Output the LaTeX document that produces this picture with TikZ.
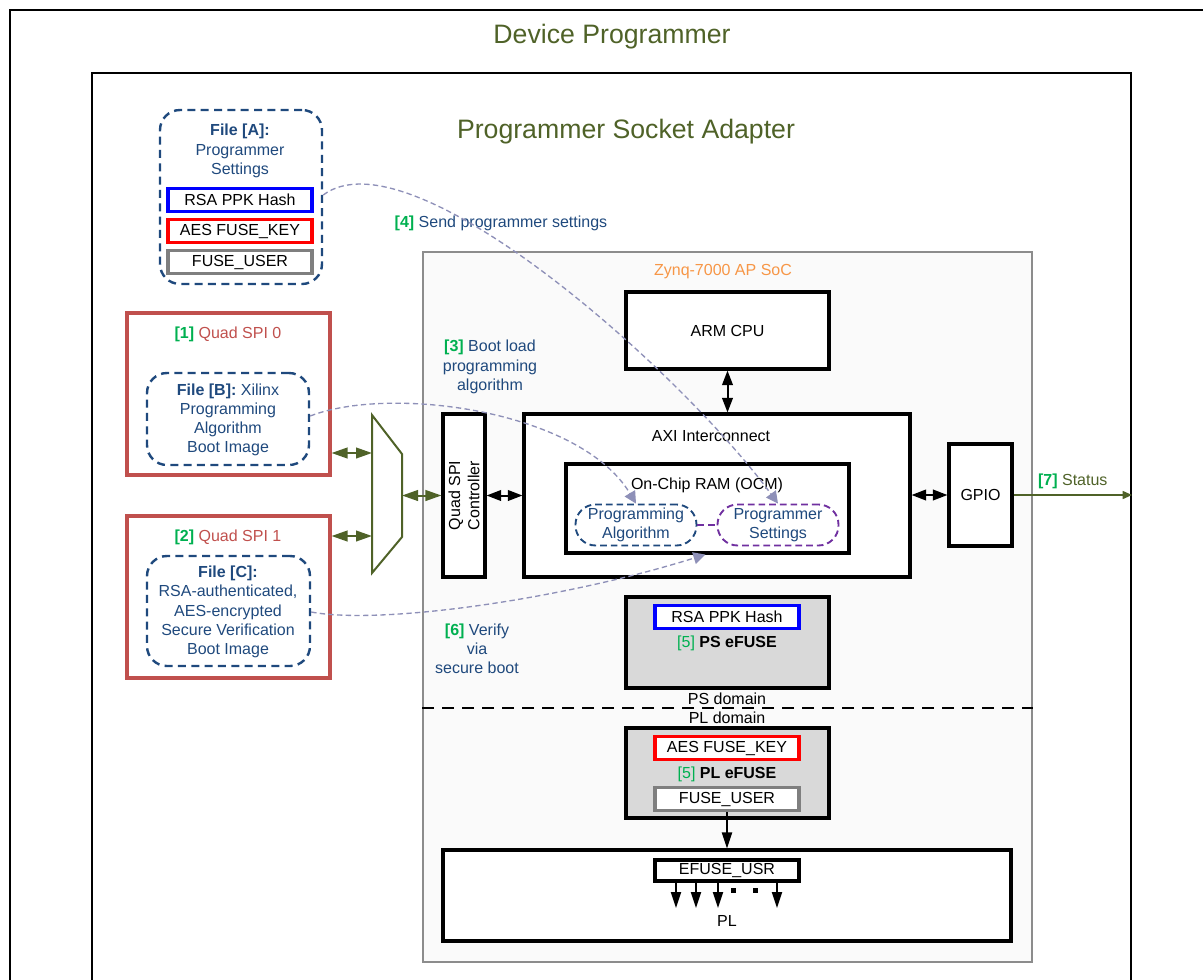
\documentclass[tikz,border=0pt]{standalone}
\usepackage{fontspec}
\setmainfont{Liberation Sans}
\usetikzlibrary{fit,arrows.meta}

\definecolor{devgreen}{HTML}{4F6228}
\definecolor{numgreen}{HTML}{00B050}
\definecolor{spired}{HTML}{C0504D}
\definecolor{fileblue}{HTML}{1F497D}
\definecolor{setpurple}{HTML}{7030A0}
\definecolor{socorange}{HTML}{F79646}
\definecolor{linkgray}{HTML}{8E90B8}
\definecolor{socgray}{HTML}{8C8C8C}
\definecolor{socfill}{HTML}{FAFAFA}
\definecolor{fusefill}{HTML}{D9D9D9}
\definecolor{fuseblue}{HTML}{0000FF}
\definecolor{fusered}{HTML}{FF0000}
\definecolor{fusegray}{HTML}{7F7F7F}

\newcommand{\stepnum}[1]{\textcolor{numgreen}{\textbf{[#1]}}}

\tikzset{
  frame/.style={draw, line width=1.5pt, inner sep=0pt},
  title/.style={text=devgreen, font=\fontsize{20}{22}\selectfont},
  hwbox/.style={draw, line width=2.3pt, fill=white, inner sep=0pt},
  spibox/.style={draw=spired, line width=2.3pt, inner sep=0pt},
  filebox/.style={draw=fileblue, line width=1.8pt, dash pattern=on 6pt off 4pt, rounded corners=15pt, inner sep=0pt},
  filetext/.style={text=fileblue, align=center},
  fusebox/.style={draw, line width=2.6pt, fill=white, inner sep=0pt, minimum width=108pt, minimum height=17pt},
  efusebox/.style={draw, line width=2.3pt, fill=fusefill, inner sep=0pt},
  pill/.style={line width=1.4pt, dash pattern=on 5pt off 3pt, rounded corners=15pt, minimum width=90.75pt, minimum height=30.75pt, align=center, inner sep=0pt},
  bus/.style={line width=1.5pt, {Triangle[length=11pt,width=8pt]}-{Triangle[length=11pt,width=8pt]}},
  muxbus/.style={devgreen, line width=1.5pt, {Triangle[length=12pt,width=8pt]}-{Triangle[length=12pt,width=8pt]}},
  sig/.style={line width=1.5pt, -{Triangle[length=12pt,width=7.5pt]}},
  link/.style={draw=linkgray, line width=1pt, dash pattern=on 4pt off 2.5pt, -{Triangle[length=9pt,width=9pt]}},
}

\begin{document}
\begin{tikzpicture}[x=0.75pt, y=-0.75pt, font=\fontsize{12}{14.4}\selectfont]
    \useasboundingbox (0,0) rectangle (1203,979);
    \clip (0,0) rectangle (1203,979);

    % Draw programmer and socket adapter
    \node[frame, fit={(10,10) (1220,1000)}] (programmer) {};
    \node[title] (programmerlabel) at (612,37) {Device Programmer};
    \node[frame, fit={(92,73) (1131,1000)}] (adapter) {};
    \node[title] (adapterlabel) at (626,132) {Programmer Socket Adapter};

    % File A
    \node[filebox, fit={(160,110) (322,284)}] (fileA) {};
    \node[filetext] (fileAtext) at (240,151) {\textbf{File [A]:}\\Programmer\\Settings};
    \node[fusebox, draw=fuseblue] (rsaA) at (240,200) {RSA PPK Hash};
    \node[fusebox, draw=fusered] (aesA) at (240,231) {AES FUSE\_KEY};
    \node[fusebox, draw=fusegray] (userA) at (240,262) {FUSE\_USER};

    % Quad SPI flash devices
    \node[spibox, fit={(127,313) (330,475)}] (spi0) {};
    \node[text=spired] (spi0label) at (228,334) {\stepnum{1} Quad SPI 0};
    \node[filebox, fit={(147,373) (309,465)}] (fileB) {};
    \node[filetext] (fileBtext) at (228,420) {\textbf{File [B]:} Xilinx\\Programming\\Algorithm\\Boot Image};
    \node[spibox, fit={(127,516) (330,678)}] (spi1) {};
    \node[text=spired] (spi1label) at (228,537) {\stepnum{2} Quad SPI 1};
    \node[filebox, fit={(147,556) (310,666)}] (fileC) {};
    \node[filetext] (fileCtext) at (228,612) {\textbf{File [C]:}\\RSA-authenticated,\\AES-encrypted\\Secure Verification\\Boot Image};

    % Mux
    \draw[devgreen, line width=1.5pt] (372,415) -- (402,454) -- (402,537) -- (372,573) -- cycle;
    \coordinate (muxin0) at (372,453);
    \coordinate (muxin1) at (372,536);
    \coordinate (muxout) at (402,495.5);

    % Zynq device
    \node[draw=socgray, fill=socfill, line width=1.5pt, inner sep=0pt, fit={(423,252) (1032,962)}] (zynq) {};
    \node[text=socorange] (zynqlabel) at (723,272) {Zynq-7000 AP SoC};
    \node[hwbox, fit={(626,292) (829,369)}] (cpu) {};
    \node (cpulabel) at (cpu) {ARM CPU};
    \node[hwbox, fit={(524,414) (910,577)}] (axi) {};
    \node (axilabel) at (711,436) {AXI Interconnect};
    \node[hwbox, fit={(566,464) (849,553)}] (ocm) {};
    \node (ocmlabel) at (707,485) {On-Chip RAM (OCM)};
    \node[pill, draw=fileblue, text=fileblue] (algo) at (636,525) {Programming\\Algorithm};
    \node[pill, draw=setpurple, text=fileblue] (settings) at (778,525) {Programmer\\Settings};
    \draw[setpurple, line width=1.4pt, dash pattern=on 5pt off 3pt] (algo) -- (settings);
    \node[hwbox, fit={(443,414) (485,577)}] (qspi) {};
    \node[rotate=90, align=center] (qspilabel) at (464,495.5) {Quad SPI\\Controller};
    \node[hwbox, fit={(949,444) (1012,546)}] (gpio) {};
    \node (gpiolabel) at (gpio) {GPIO};

    % Buses
    \draw[muxbus] (spi0.east |- muxin0) -- (muxin0);
    \draw[muxbus] (spi1.east |- muxin1) -- (muxin1);
    \draw[muxbus] (muxout) -- (muxout -| qspi.west);
    \draw[bus] (qspi.east) -- (qspi.east -| axi.west);
    \draw[bus] (cpu.south) -- (cpu.south |- axi.north);
    \draw[bus] (gpio.west -| axi.east) -- (gpio.west);
    \draw[devgreen, line width=1.1pt, -{Triangle[length=7pt,width=6pt]}] (gpio.east) -- (gpio.east -| adapter.east)
        node[midway, above=1pt, text=devgreen] {\stepnum{7} Status};

    % eFUSEs and domains
    \node[efusebox, fit={(626,597) (829,688)}] (psfuse) {};
    \node[fusebox, draw=fuseblue] (rsaPS) at (727,617) {RSA PPK Hash};
    \node (pslabel) at (727,643) {\textcolor{numgreen}{[5]} \textbf{PS eFUSE}};
    \node (psdomain) at (727,699) {PS domain};
    \draw[line width=1.5pt, dash pattern=on 9pt off 6pt] (zynq.west |- 0,708) -- (zynq.east |- 0,708);
    \node (pldomain) at (727,718) {PL domain};
    \node[efusebox, fit={(626,728) (829,818)}] (plfuse) {};
    \node[fusebox, draw=fusered] (aesPL) at (727,748) {AES FUSE\_KEY};
    \node (pllabel) at (727,774) {\textcolor{numgreen}{[5]} \textbf{PL eFUSE}};
    \node[fusebox, draw=fusegray] (userPL) at (727,799) {FUSE\_USER};

    % PL fabric
    \node[hwbox, fit={(443,850) (1011,941)}] (pl) {};
    \node[fusebox, line width=2.3pt, minimum height=15.75pt] (efuseusr) at (727,870.5) {EFUSE\_USR};
    \node (pltext) at (727,921) {PL};
    \draw[sig] (userPL.south) -- (userPL.south |- pl.north);
    \foreach \x in {676,696,718,777}
        \draw[sig] (\x,0 |- efuseusr.south) -- (\x,908);
    \fill (731,888) rectangle (736,893);
    \fill (753,888) rectangle (758,893);

    % Step labels
    \node[filetext] (step3) at (490,367) {\stepnum{3} Boot load\\programming\\algorithm};
    \node[filetext] (step4) at (501,223) {\stepnum{4} Send programmer settings};
    \node[filetext] (step6) at (477,649) {\stepnum{6} Verify\\via\\secure boot};

    % Draw data movement
    \draw[link] (fileA.east |- 0,195) .. controls (410,130) and (680,370) .. (settings.north);
    \draw[link] (fileB.east |- 0,416) .. controls (390,385) and (580,410) .. (algo.north);
    \draw[link] (fileC.east |- 0,612) .. controls (380,625) and (560,600) .. ([xshift=6]ocm.south -| algo.east);
\end{tikzpicture}
\end{document}
